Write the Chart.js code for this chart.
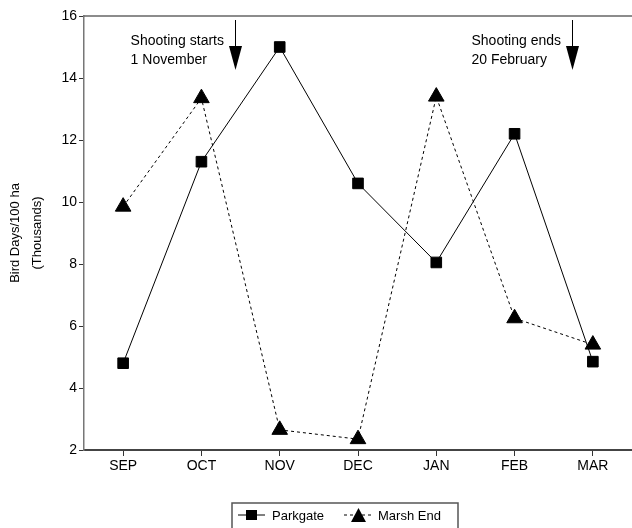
<!DOCTYPE html>
<html>
<head>
<meta charset="utf-8">
<script src="https://cdn.jsdelivr.net/npm/chart.js@4"></script>
<style>
  html, body { margin: 0; padding: 0; background: #fff; }
  #wrap { width: 632px; height: 528px; }
</style>
</head>
<body>
<div id="wrap"><canvas id="birdChart" width="632" height="528"></canvas></div>
<script>
// Chart data
const months = ['SEP', 'OCT', 'NOV', 'DEC', 'JAN', 'FEB', 'MAR'];
const parkgate = [4.8, 11.3, 15.0, 10.6, 8.05, 12.2, 4.85];
const marshEnd = [9.85, 13.35, 2.65, 2.35, 13.4, 6.25, 5.4];
const yTicks = [2, 4, 6, 8, 10, 12, 14, 16];

// Shooting season markers (category position on the x axis)
const arrowPositions = [1.43, 5.73];
const arrowLabels = [['Shooting starts', '1 November'], ['Shooting ends', '20 February']];

const FONT = '"Liberation Sans", Arial, Helvetica, sans-serif';

/**
 * Draw the top frame line, the shooting arrows and the boxed legend
 */
const extrasPlugin = {
  id: 'extras',
  afterDraw(chart) {
    const { ctx, chartArea, scales } = chart;
    ctx.save();

    // Top frame line
    ctx.strokeStyle = '#666';
    ctx.lineWidth = 1.5;
    ctx.beginPath();
    ctx.moveTo(chartArea.left, chartArea.top);
    ctx.lineTo(chart.width, chartArea.top);
    ctx.stroke();

    // Arrows with labels
    ctx.fillStyle = '#000';
    ctx.strokeStyle = '#000';
    ctx.font = '14px ' + FONT;
    ctx.textBaseline = 'middle';
    arrowPositions.forEach((pos, i) => {
      const x = Math.round(scales.x.getPixelForValue(pos));
      const top = chartArea.top + 4;
      ctx.lineWidth = 1;
      ctx.beginPath();
      ctx.moveTo(x + 0.5, top);
      ctx.lineTo(x + 0.5, top + 30);
      ctx.stroke();
      ctx.beginPath();
      ctx.moveTo(x - 6, top + 26);
      ctx.lineTo(x + 7, top + 26);
      ctx.lineTo(x + 0.5, top + 50);
      ctx.closePath();
      ctx.fill();

      const lines = arrowLabels[i];
      const w = Math.max(...lines.map((l) => ctx.measureText(l).width));
      ctx.textAlign = 'left';
      lines.forEach((l, j) => {
        ctx.fillText(l, x - 11 - w, top + 21 + j * 19);
      });
    });

    // Legend box
    const bx = 232, by = 503, bw = 226, bh = 40;
    ctx.strokeStyle = '#555';
    ctx.lineWidth = 1.5;
    ctx.strokeRect(bx, by, bw, bh);

    const ly = 515;
    ctx.font = '13px ' + FONT;
    ctx.strokeStyle = '#000';
    ctx.lineWidth = 1;
    ctx.beginPath();
    ctx.moveTo(238, ly);
    ctx.lineTo(265, ly);
    ctx.stroke();
    ctx.fillRect(246, ly - 5, 11, 10);
    ctx.textAlign = 'left';
    ctx.fillText('Parkgate', 272, ly + 1);

    ctx.setLineDash([3, 3]);
    ctx.beginPath();
    ctx.moveTo(344, ly);
    ctx.lineTo(373, ly);
    ctx.stroke();
    ctx.setLineDash([]);
    ctx.beginPath();
    ctx.moveTo(351, ly + 7);
    ctx.lineTo(366, ly + 7);
    ctx.lineTo(358.5, ly - 7);
    ctx.closePath();
    ctx.fill();
    ctx.fillText('Marsh End', 378, ly + 1);

    ctx.restore();
  },
};

new Chart(document.getElementById('birdChart'), {
  type: 'line',
  data: {
    labels: months,
    datasets: [
      {
        label: 'Parkgate',
        data: parkgate,
        borderColor: '#000',
        backgroundColor: '#000',
        borderWidth: 1,
        pointStyle: 'rect',
        pointRadius: 7.5,
        pointHoverRadius: 7.5,
        tension: 0,
      },
      {
        label: 'Marsh End',
        data: marshEnd,
        borderColor: '#000',
        backgroundColor: '#000',
        borderWidth: 1,
        borderDash: [3, 3],
        pointStyle: 'triangle',
        pointRadius: 9,
        pointHoverRadius: 9,
        tension: 0,
      },
    ],
  },
  options: {
    responsive: false,
    animation: false,
    layout: { autoPadding: false, padding: { top: 16, right: -4, bottom: 0, left: 0 } },
    plugins: {
      legend: { display: false },
      tooltip: { enabled: false },
    },
    scales: {
      x: {
        offset: true,
        grid: { display: true, drawOnChartArea: false, drawTicks: true, tickLength: 6, color: '#333' },
        border: { display: true, color: '#444', width: 2 },
        ticks: { color: '#000', font: { family: FONT, size: 14 }, padding: 2 },
        afterFit(scale) {
          scale.height = 78;
          scale.paddingLeft = 0;
          scale.paddingRight = 0;
        },
      },
      y: {
        min: 2,
        max: 16,
        afterBuildTicks(scale) { scale.ticks = yTicks.map((v) => ({ value: v })); },
        grid: { display: true, drawOnChartArea: false, drawTicks: true, tickLength: 5, color: '#333' },
        border: { display: true, color: '#777', width: 1.5 },
        ticks: { color: '#000', font: { family: FONT, size: 14 }, padding: 2 },
        title: {
          display: true,
          text: ['Bird Days/100 ha', '(Thousands)'],
          color: '#000',
          font: { family: FONT, size: 13, lineHeight: 1.7 },
          padding: { top: 4, bottom: 0 },
        },
        afterFit(scale) { scale.width = 84; },
      },
    },
  },
  plugins: [extrasPlugin],
});
</script>
</body>
</html>
